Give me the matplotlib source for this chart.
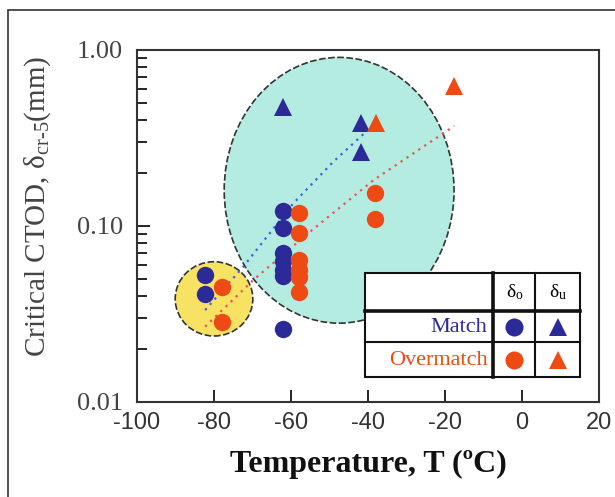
import matplotlib
matplotlib.use("Agg")
import matplotlib.pyplot as plt
from matplotlib.patches import Ellipse, Rectangle
from matplotlib.ticker import NullFormatter, LogLocator
import numpy as np

plt.rcParams['font.family'] = ['Liberation Serif', 'DejaVu Serif']
plt.rcParams['mathtext.fontset'] = 'custom'
plt.rcParams['mathtext.rm'] = 'Liberation Serif'
plt.rcParams['mathtext.it'] = 'Liberation Serif:italic'

# data
match_o_T = [-82.4, -82.4, -62.2, -62.2, -62.2, -62.2, -62.2, -62.2, -62.2]
match_o_d = [0.053, 0.041, 0.122, 0.097, 0.070, 0.063, 0.056, 0.052, 0.026]
match_u_T = [-62.0, -41.9, -41.9]
match_u_d = [0.476, 0.383, 0.264]

over_o_T = [-77.8, -77.8, -58.0, -58.0, -58.0, -58.0, -58.0, -58.0, -38.1, -38.1]
over_o_d = [0.045, 0.0286, 0.118, 0.091, 0.064, 0.056, 0.051, 0.042, 0.153, 0.110]
over_u_T = [-38.0, -17.6]
over_u_d = [0.386, 0.624]

# dotted trend curves
match_fit_T = [-82.3, -72.4, -59.4, -49.0, -38.6]
match_fit_d = [0.0333, 0.0587, 0.1345, 0.232, 0.375]
over_fit_T = [-82.3, -69.8, -55.0, -38.6, -17.6]
over_fit_d = [0.0268, 0.0493, 0.093, 0.182, 0.37]

xticks = [-100, -80, -60, -40, -20, 0, 20]
yticks = [0.01, 0.1, 1.0]
ytick_labels = ["0.01", "0.10", "1.00"]

blue = "#2c2a98"
red = "#ee4a14"

fig = plt.figure(figsize=(6.15, 4.97), dpi=100)
ax = fig.add_axes([137 / 615, 1 - 402 / 497, 462 / 615, 352 / 497])

# outer frame of the picture
fig.patches.append(Rectangle((8 / 615, -0.1), 1.2, 1 - 10 / 497 + 0.1, transform=fig.transFigure,
                             fill=False, edgecolor="#333333", linewidth=1.2))

# highlight regions
ax.add_patch(Ellipse((0.4375, 0.6015), 0.4975, 0.755, transform=ax.transAxes,
                     facecolor="#b4ece2", edgecolor="#333333", linestyle=(0, (4, 1.5)),
                     linewidth=1.2, zorder=1))
ax.add_patch(Ellipse((0.1667, 0.293), 0.168, 0.211, transform=ax.transAxes,
                     facecolor="#f8e264", edgecolor="#333333", linestyle=(0, (4, 1.5)),
                     linewidth=1.2, zorder=1))

ax.plot(match_fit_T, match_fit_d, linestyle=(0, (1, 2.2)), color="#3d5ee0", linewidth=1.6, zorder=2)
ax.plot(over_fit_T, over_fit_d, linestyle=(0, (1, 2.2)), color="#f05050", linewidth=1.6, zorder=2)

ax.plot(match_o_T, match_o_d, 'o', color=blue, markersize=12.5, markeredgewidth=0, zorder=3)
ax.plot(over_o_T, over_o_d, 'o', color=red, markersize=12.5, markeredgewidth=0, zorder=3)
ax.plot(match_u_T, match_u_d, '^', color=blue, markersize=13, markeredgewidth=0, zorder=3)
ax.plot(over_u_T, over_u_d, '^', color=red, markersize=13, markeredgewidth=0, zorder=3)

ax.set_yscale('log')
ax.set_xlim(-100, 20)
ax.set_ylim(0.01, 1.0)
ax.set_xticks(xticks)
ax.set_xticklabels([str(t) for t in xticks], family=['Liberation Sans', 'DejaVu Sans'],
                   fontsize=17, color="#333333")
ax.set_yticks(yticks)
ax.set_yticklabels(ytick_labels, fontsize=19, color="#444444")
ax.yaxis.set_minor_locator(LogLocator(base=10, subs=np.arange(2, 10)))
ax.yaxis.set_minor_formatter(NullFormatter())
ax.tick_params(axis='both', which='major', direction='in', length=9, width=1.2,
               top=False, right=False)
ax.tick_params(axis='y', which='minor', direction='in', length=7, width=1.2, right=False)
ax.tick_params(axis='x', pad=7)
ax.tick_params(axis='y', pad=10)
for s in ax.spines.values():
    s.set_linewidth(1.5)
    s.set_color("#333333")

ax.set_ylabel(r"Critical CTOD, δ$_{\mathrm{cr\text{-}5}}$(mm)", fontsize=21, color="#444444")
ax.yaxis.set_label_coords(-0.182, 0.555)
ax.set_xlabel("Temperature, T (ºC)", fontsize=23, fontweight='bold', color="#111111", labelpad=12)

# table-like legend, in figure pixels
def px(x, y):
    return x / 615, 1 - y / 497

L, C1, C2, R = 364.7, 493.3, 535.3, 580.4
T0, R1, R2, B = 273.3, 311.0, 342.3, 377.3
x0, y0 = px(L, B)
x1, y1 = px(R, T0)
fig.patches.append(Rectangle((x0, y0), x1 - x0, y1 - y0, transform=fig.transFigure,
                             facecolor="white", edgecolor="#111111", linewidth=1.5, zorder=5))
for yy, lw in [(R1, 2.6), (R2, 1.5)]:
    fig.add_artist(plt.Line2D([px(L, 0)[0], px(R, 0)[0]], [px(0, yy)[1]] * 2,
                              transform=fig.transFigure, color="#111111", linewidth=lw, zorder=6))
for xx, lw in [(C1, 2.6), (C2, 1.5)]:
    fig.add_artist(plt.Line2D([px(xx, 0)[0]] * 2, [px(0, T0)[1], px(0, B)[1]],
                              transform=fig.transFigure, color="#111111", linewidth=lw, zorder=6))

hx1 = (C1 + C2) / 2
hx2 = (C2 + R) / 2
fig.text(*px(hx1, (T0 + R1) / 2), r"δ$_{\mathrm{o}}$", ha='center', va='center',
         fontsize=14, zorder=7)
fig.text(*px(hx2, (T0 + R1) / 2), r"δ$_{\mathrm{u}}$", ha='center', va='center',
         fontsize=14, zorder=7)
fig.text(*px(C1 - 6, (R1 + R2) / 2 + 1), "Match", ha='right', va='center', fontsize=16,
         color=blue, zorder=7)
fig.text(*px(C1 - 6, (R2 + B) / 2 + 1), "Overmatch", ha='right', va='center', fontsize=16,
         color=red, zorder=7)
for (mx, my, m, c) in [(hx1, (R1 + R2) / 2, 'o', blue), (hx2, (R1 + R2) / 2, '^', blue),
                       (hx1, (R2 + B) / 2, 'o', red), (hx2, (R2 + B) / 2, '^', red)]:
    fig.add_artist(plt.Line2D([px(mx, 0)[0]], [px(0, my)[1]], transform=fig.transFigure,
                              marker=m, color=c, markersize=13, markeredgewidth=0, zorder=8))

fig.savefig("out.png", dpi=100)
